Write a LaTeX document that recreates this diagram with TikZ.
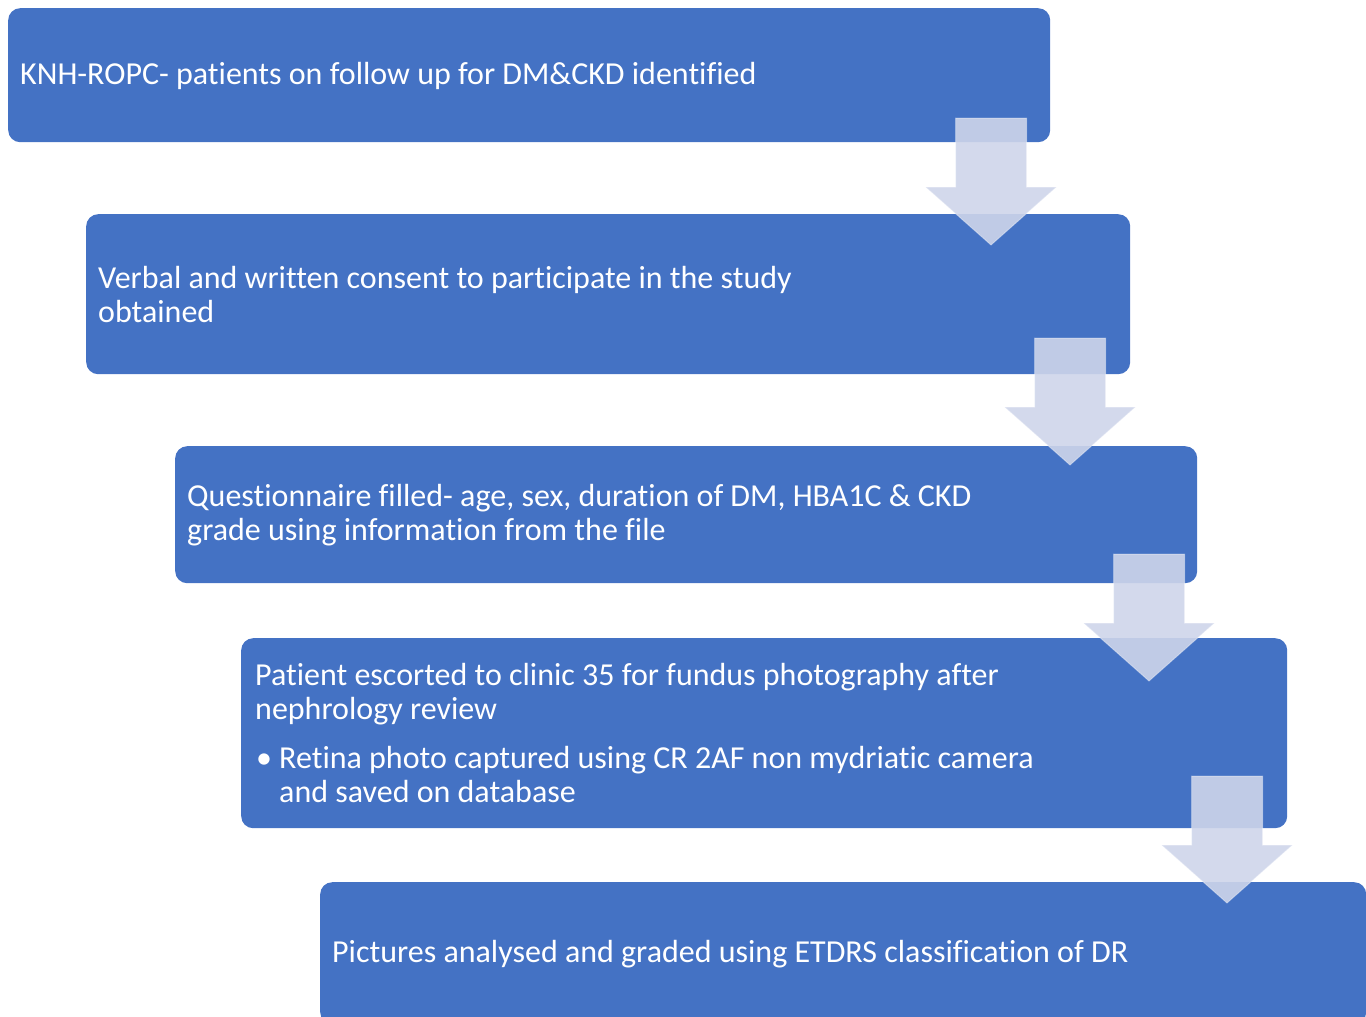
\documentclass[tikz,border=0pt]{standalone}
\usepackage{fontspec}
\setmainfont[Ligatures=CommonOff]{Carlito}
\usetikzlibrary{positioning}

\definecolor{boxblue}{HTML}{4472C4}
\definecolor{arrowfill}{HTML}{CED5EA}

\tikzset{
  stepbox/.style={fill=boxblue, rounded corners=12pt, inner sep=0pt, anchor=north west},
  steptext/.style={text=white, align=left, anchor=west, inner sep=0pt,
    font=\fontsize{32}{34}\selectfont},
  flowarrow/.style={fill=arrowfill, fill opacity=0.9, draw=white, draw opacity=0.35, line width=1pt}
}

\begin{document}
\begin{tikzpicture}[x=1pt,y=-1pt]
\useasboundingbox (0,0) rectangle (1366,1017);
\clip (0,0) rectangle (1366,1017);

% the five steps
\node[stepbox, minimum width=1042pt, minimum height=134pt] (s1) at (8,8) {};
\node[stepbox, minimum width=1044pt, minimum height=160pt] (s2) at (86,214) {};
\node[stepbox, minimum width=1022pt, minimum height=137pt] (s3) at (175,446) {};
\node[stepbox, minimum width=1046pt, minimum height=190pt] (s4) at (241,638) {};
\node[stepbox, minimum width=1046pt, minimum height=142pt] (s5) at (320,882) {};

\node[steptext] (t1) at ([xshift=12pt,yshift=-1pt]s1.west)
  {KNH-ROPC- patients on follow up for DM\&CKD identified};
\node[steptext] (t2) at ([xshift=12pt]s2.west)
  {Verbal and written consent to participate in the study\\obtained};
\node[steptext] (t3) at ([xshift=12pt]s3.west)
  {Questionnaire filled- age, sex, duration of DM, HBA1C \& CKD\\grade using information from the file};
\node[steptext] (t4) at ([xshift=14pt]s4.west)
  {Patient escorted to clinic 35 for fundus photography after\\nephrology review\\[15pt]
   \makebox[24pt][l]{\hspace{1pt}•}Retina photo captured using CR 2AF non mydriatic camera\\
   \hspace*{24pt}and saved on database};
\node[steptext] (t5) at ([xshift=12pt,yshift=-1pt]s5.west)
  {Pictures analysed and graded using ETDRS classification of DR};

% down arrows between the steps
\foreach \cx/\cy in {991/118, 1070/338, 1149/554, 1227/776}
  \draw[flowarrow] (\cx-35.5,\cy) -- (\cx+35.5,\cy) -- (\cx+35.5,\cy+69)
    -- (\cx+65.5,\cy+69) -- (\cx,\cy+127) -- (\cx-65.5,\cy+69)
    -- (\cx-35.5,\cy+69) -- cycle;
\end{tikzpicture}
\end{document}
